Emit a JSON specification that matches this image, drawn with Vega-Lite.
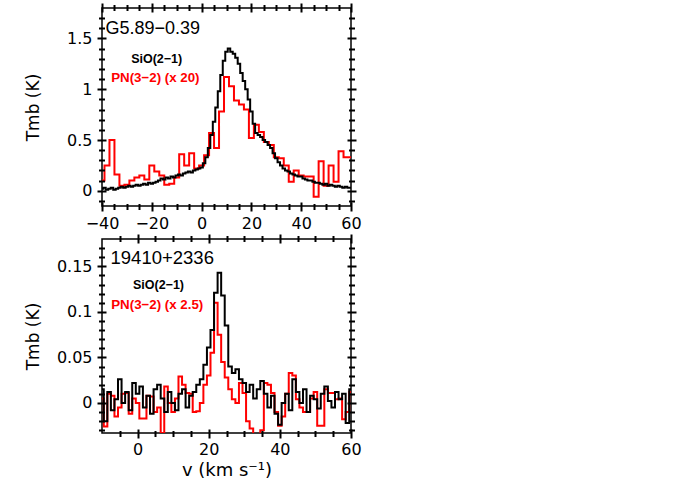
{
  "$schema": "https://vega.github.io/schema/vega-lite/v6.json",
  "padding": {"left": 23, "top": 1, "right": 5, "bottom": 5},
  "background": "white",
  "bounds": "flush",
  "spacing": 33,
  "config": {
    "view": {"stroke": "black", "strokeWidth": 1.5},
    "axis": {"grid": false, "domain": false, "ticks": true, "tickColor": "#000000", "tickOpacity": 1, "tickWidth": 2, "labelColor": "black", "labelFont": "DejaVu Sans", "labelFontSize": 16, "titleFont": "DejaVu Sans", "titleFontSize": 17, "titleFontWeight": "normal", "titleColor": "black", "labelOverlap": false, "labelFlush": false}
  },
  "datasets": {
    "topSiO": [
      {"v": -40, "T": 0.02}, {"v": -39, "T": 0.03}, {"v": -38, "T": 0.01}, {"v": -37, "T": 0.02}, {"v": -36, "T": 0.03}, {"v": -35, "T": 0.01}, {"v": -34, "T": 0.02}, {"v": -33, "T": 0.03}, {"v": -32, "T": 0.04}, {"v": -31, "T": 0.03},
      {"v": -30, "T": 0.04}, {"v": -29, "T": 0.05}, {"v": -28, "T": 0.04}, {"v": -27, "T": 0.05}, {"v": -26, "T": 0.06}, {"v": -25, "T": 0.05}, {"v": -24, "T": 0.06}, {"v": -23, "T": 0.07}, {"v": -22, "T": 0.06}, {"v": -21, "T": 0.08},
      {"v": -20, "T": 0.07}, {"v": -19, "T": 0.08}, {"v": -18, "T": 0.09}, {"v": -17, "T": 0.10}, {"v": -16, "T": 0.12}, {"v": -15, "T": 0.11}, {"v": -14, "T": 0.13}, {"v": -13, "T": 0.12}, {"v": -12, "T": 0.14}, {"v": -11, "T": 0.13},
      {"v": -10, "T": 0.15}, {"v": -9, "T": 0.16}, {"v": -8, "T": 0.15}, {"v": -7, "T": 0.17}, {"v": -6, "T": 0.18}, {"v": -5, "T": 0.19}, {"v": -4, "T": 0.18}, {"v": -3, "T": 0.20}, {"v": -2, "T": 0.21}, {"v": -1, "T": 0.22},
      {"v": 0, "T": 0.23}, {"v": 1, "T": 0.27}, {"v": 2, "T": 0.33}, {"v": 3, "T": 0.42}, {"v": 4, "T": 0.55}, {"v": 5, "T": 0.68}, {"v": 6, "T": 0.82}, {"v": 7, "T": 0.98}, {"v": 8, "T": 1.14}, {"v": 9, "T": 1.28},
      {"v": 10, "T": 1.37}, {"v": 11, "T": 1.40}, {"v": 12, "T": 1.37}, {"v": 13, "T": 1.35}, {"v": 14, "T": 1.31}, {"v": 15, "T": 1.25}, {"v": 16, "T": 1.16}, {"v": 17, "T": 1.08}, {"v": 18, "T": 1.00}, {"v": 19, "T": 0.90},
      {"v": 20, "T": 0.78}, {"v": 21, "T": 0.66}, {"v": 22, "T": 0.57}, {"v": 23, "T": 0.55}, {"v": 24, "T": 0.53}, {"v": 25, "T": 0.50}, {"v": 26, "T": 0.48}, {"v": 27, "T": 0.45}, {"v": 28, "T": 0.42}, {"v": 29, "T": 0.37},
      {"v": 30, "T": 0.32}, {"v": 31, "T": 0.28}, {"v": 32, "T": 0.25}, {"v": 33, "T": 0.22}, {"v": 34, "T": 0.20}, {"v": 35, "T": 0.19}, {"v": 36, "T": 0.17}, {"v": 37, "T": 0.16}, {"v": 38, "T": 0.15}, {"v": 39, "T": 0.14},
      {"v": 40, "T": 0.14}, {"v": 41, "T": 0.12}, {"v": 42, "T": 0.11}, {"v": 43, "T": 0.10}, {"v": 44, "T": 0.10}, {"v": 45, "T": 0.09}, {"v": 46, "T": 0.08}, {"v": 47, "T": 0.08}, {"v": 48, "T": 0.07}, {"v": 49, "T": 0.06},
      {"v": 50, "T": 0.07}, {"v": 51, "T": 0.05}, {"v": 52, "T": 0.06}, {"v": 53, "T": 0.05}, {"v": 54, "T": 0.04}, {"v": 55, "T": 0.05}, {"v": 56, "T": 0.04}, {"v": 57, "T": 0.03}, {"v": 58, "T": 0.04}, {"v": 59, "T": 0.03},
      {"v": 60, "T": 0.03}
    ],
    "topPN": [
      {"v": -40, "T": 0.10}, {"v": -38, "T": 0.25}, {"v": -36, "T": 0.50}, {"v": -34, "T": 0.16}, {"v": -32, "T": 0.05}, {"v": -30, "T": 0.06}, {"v": -28, "T": 0.10}, {"v": -26, "T": 0.13}, {"v": -24, "T": 0.15}, {"v": -22, "T": 0.11},
      {"v": -20, "T": 0.25}, {"v": -18, "T": 0.19}, {"v": -16, "T": 0.15}, {"v": -14, "T": 0.06}, {"v": -12, "T": 0.07}, {"v": -10, "T": 0.13}, {"v": -8, "T": 0.36}, {"v": -6, "T": 0.25}, {"v": -4, "T": 0.37}, {"v": -2, "T": 0.22},
      {"v": 0, "T": 0.25}, {"v": 2, "T": 0.35}, {"v": 4, "T": 0.57}, {"v": 6, "T": 0.42}, {"v": 8, "T": 0.78}, {"v": 10, "T": 1.12}, {"v": 12, "T": 1.03}, {"v": 14, "T": 0.89}, {"v": 16, "T": 0.85}, {"v": 18, "T": 0.80},
      {"v": 20, "T": 0.52}, {"v": 22, "T": 0.65}, {"v": 24, "T": 0.58}, {"v": 26, "T": 0.48}, {"v": 28, "T": 0.45}, {"v": 30, "T": 0.33}, {"v": 32, "T": 0.32}, {"v": 34, "T": 0.25}, {"v": 36, "T": 0.09}, {"v": 38, "T": 0.20},
      {"v": 40, "T": 0.15}, {"v": 42, "T": 0.14}, {"v": 44, "T": 0.14}, {"v": 46, "T": -0.06}, {"v": 48, "T": 0.29}, {"v": 50, "T": 0.05}, {"v": 52, "T": 0.25}, {"v": 54, "T": 0.09}, {"v": 56, "T": 0.39}, {"v": 58, "T": 0.33},
      {"v": 60, "T": 0.33}
    ],
    "botSiO": [
      {"v": -10, "T": 0.015}, {"v": -9, "T": -0.02}, {"v": -8, "T": 0.012}, {"v": -7, "T": -0.008}, {"v": -6, "T": 0.004}, {"v": -5, "T": 0.026}, {"v": -4, "T": 0.0}, {"v": -3, "T": 0.012}, {"v": -2, "T": -0.008}, {"v": -1, "T": 0.022},
      {"v": 0, "T": 0.01}, {"v": 1, "T": 0.018}, {"v": 2, "T": -0.005}, {"v": 3, "T": 0.008}, {"v": 4, "T": -0.012}, {"v": 5, "T": 0.015}, {"v": 6, "T": 0.02}, {"v": 7, "T": 0.005}, {"v": 8, "T": -0.01}, {"v": 9, "T": 0.012},
      {"v": 10, "T": 0.0}, {"v": 11, "T": -0.008}, {"v": 12, "T": 0.01}, {"v": 13, "T": 0.015}, {"v": 14, "T": -0.005}, {"v": 15, "T": 0.008}, {"v": 16, "T": 0.012}, {"v": 17, "T": 0.02}, {"v": 18, "T": 0.026}, {"v": 19, "T": 0.042},
      {"v": 20, "T": 0.061}, {"v": 21, "T": 0.08}, {"v": 22, "T": 0.121}, {"v": 23, "T": 0.143}, {"v": 24, "T": 0.118}, {"v": 25, "T": 0.085}, {"v": 26, "T": 0.04}, {"v": 27, "T": 0.033}, {"v": 28, "T": 0.037}, {"v": 29, "T": 0.026},
      {"v": 30, "T": 0.022}, {"v": 31, "T": 0.012}, {"v": 32, "T": 0.02}, {"v": 33, "T": 0.005}, {"v": 34, "T": 0.015}, {"v": 35, "T": 0.024}, {"v": 36, "T": 0.01}, {"v": 37, "T": -0.005}, {"v": 38, "T": 0.008}, {"v": 39, "T": -0.012},
      {"v": 40, "T": -0.024}, {"v": 41, "T": 0.0}, {"v": 42, "T": 0.01}, {"v": 43, "T": -0.008}, {"v": 44, "T": 0.026}, {"v": 45, "T": 0.012}, {"v": 46, "T": 0.0}, {"v": 47, "T": 0.015}, {"v": 48, "T": -0.01}, {"v": 49, "T": 0.008},
      {"v": 50, "T": 0.004}, {"v": 51, "T": -0.006}, {"v": 52, "T": 0.01}, {"v": 53, "T": 0.018}, {"v": 54, "T": 0.002}, {"v": 55, "T": -0.005}, {"v": 56, "T": 0.012}, {"v": 57, "T": 0.004}, {"v": 58, "T": 0.01}, {"v": 59, "T": -0.022},
      {"v": 60, "T": 0.015}
    ],
    "botPN": [
      {"v": -10, "T": 0.005}, {"v": -9, "T": -0.026}, {"v": -8, "T": 0.01}, {"v": -7, "T": 0.008}, {"v": -6, "T": -0.015}, {"v": -5, "T": -0.005}, {"v": -4, "T": 0.01}, {"v": -3, "T": 0.011}, {"v": -2, "T": -0.012}, {"v": -1, "T": 0.005},
      {"v": 0, "T": 0.0}, {"v": 1, "T": -0.017}, {"v": 2, "T": -0.017}, {"v": 3, "T": 0.008}, {"v": 4, "T": 0.007}, {"v": 5, "T": -0.01}, {"v": 6, "T": -0.005}, {"v": 7, "T": -0.033}, {"v": 8, "T": 0.018}, {"v": 9, "T": 0.0},
      {"v": 10, "T": -0.01}, {"v": 11, "T": 0.005}, {"v": 12, "T": 0.029}, {"v": 13, "T": 0.02}, {"v": 14, "T": 0.011}, {"v": 15, "T": 0.01}, {"v": 16, "T": -0.01}, {"v": 17, "T": -0.009}, {"v": 18, "T": 0.0}, {"v": 19, "T": 0.02},
      {"v": 20, "T": 0.03}, {"v": 21, "T": 0.055}, {"v": 22, "T": 0.11}, {"v": 23, "T": 0.075}, {"v": 24, "T": 0.045}, {"v": 25, "T": 0.028}, {"v": 26, "T": 0.015}, {"v": 27, "T": 0.004}, {"v": 28, "T": 0.0}, {"v": 29, "T": 0.022},
      {"v": 30, "T": 0.011}, {"v": 31, "T": -0.02}, {"v": 32, "T": -0.028}, {"v": 33, "T": -0.04}, {"v": 34, "T": -0.045}, {"v": 35, "T": -0.03}, {"v": 36, "T": 0.022}, {"v": 37, "T": 0.02}, {"v": 38, "T": 0.011}, {"v": 39, "T": -0.01},
      {"v": 40, "T": -0.025}, {"v": 41, "T": -0.015}, {"v": 42, "T": 0.01}, {"v": 43, "T": 0.033}, {"v": 44, "T": 0.03}, {"v": 45, "T": 0.004}, {"v": 46, "T": -0.005}, {"v": 47, "T": -0.01}, {"v": 48, "T": -0.01}, {"v": 49, "T": 0.005},
      {"v": 50, "T": 0.012}, {"v": 51, "T": -0.025}, {"v": 52, "T": -0.025}, {"v": 53, "T": 0.015}, {"v": 54, "T": 0.011}, {"v": 55, "T": 0.011}, {"v": 56, "T": 0.004}, {"v": 57, "T": 0.005}, {"v": 58, "T": -0.018}, {"v": 59, "T": -0.01},
      {"v": 60, "T": 0.012}
    ]
  },
  "vconcat": [
    {
      "width": 249,
      "height": 198,
      "layer": [
        {
          "data": {"name": "topPN"},
          "mark": {"type": "line", "interpolate": "step", "color": "#ff0000", "strokeWidth": 2, "clip": true},
          "encoding": {
            "x": {"field": "v", "type": "quantitative", "scale": {"domain": [-40, 60], "nice": false, "zero": false},
                  "axis": {"orient": "bottom", "zindex": 1, "values": [-35, -30, -25, -15, -10, -5, 5, 10, 15, 25, 30, 35, 45, 50, 55], "labels": false, "offset": -2.5, "tickSize": 6, "title": null}},
            "y": {"field": "T", "type": "quantitative", "scale": {"domain": [-0.15, 1.8], "nice": false, "zero": false},
                  "axis": {"orient": "left", "zindex": 1, "values": [-0.1, 0.1, 0.2, 0.3, 0.4, 0.6, 0.7, 0.8, 0.9, 1.1, 1.2, 1.3, 1.4, 1.6, 1.7], "labels": false, "offset": -2.5, "tickSize": 6, "title": null}}
          }
        },
        {
          "data": {"name": "topSiO"},
          "mark": {"type": "line", "interpolate": "step", "color": "black", "strokeWidth": 2, "clip": true},
          "encoding": {
            "x": {"field": "v", "type": "quantitative", "axis": {"orient": "bottom", "zindex": 1, "values": [-40, -20, 0, 20, 40, 60], "format": "d", "offset": -4, "tickSize": 9, "labelPadding": 4, "title": null}},
            "y": {"field": "T", "type": "quantitative", "axis": {"orient": "left", "zindex": 1, "values": [0, 0.5, 1, 1.5], "format": "~g", "offset": -4, "tickSize": 9, "labelPadding": 5, "title": "Tmb (K)", "titlePadding": 24}}
          }
        },
        {
          "data": {"name": "topSiO"},
          "mark": {"type": "line", "strokeOpacity": 0},
          "encoding": {
            "x": {"field": "v", "type": "quantitative", "axis": {"orient": "top", "zindex": 1, "values": [-40, -20, 0, 20, 40, 60], "offset": -4, "tickSize": 9, "labels": false, "title": null}},
            "y": {"field": "T", "type": "quantitative", "axis": {"orient": "right", "zindex": 1, "values": [0, 0.5, 1, 1.5], "offset": -4, "tickSize": 9, "labels": false, "title": null}}
          }
        },
        {
          "data": {"name": "topSiO"},
          "mark": {"type": "line", "strokeOpacity": 0},
          "encoding": {
            "x": {"field": "v", "type": "quantitative", "axis": {"orient": "top", "zindex": 1, "values": [-35, -30, -25, -15, -10, -5, 5, 10, 15, 25, 30, 35, 45, 50, 55], "offset": -2.5, "tickSize": 6, "labels": false, "title": null}},
            "y": {"field": "T", "type": "quantitative", "axis": {"orient": "right", "zindex": 1, "values": [-0.1, 0.1, 0.2, 0.3, 0.4, 0.6, 0.7, 0.8, 0.9, 1.1, 1.2, 1.3, 1.4, 1.6, 1.7], "offset": -2.5, "tickSize": 6, "labels": false, "title": null}}
          }
        },
        {
          "data": {"values": [{"t": "G5.89−0.39"}]},
          "mark": {"type": "text", "align": "left", "baseline": "middle", "font": "Liberation Sans", "fontSize": 18, "color": "black"},
          "encoding": {"x": {"datum": -38.6, "type": "quantitative", "axis": null}, "y": {"datum": 1.59, "type": "quantitative", "axis": null}, "text": {"field": "t"}}
        },
        {
          "data": {"values": [{"t": "SiO(2−1)"}]},
          "mark": {"type": "text", "align": "left", "baseline": "middle", "font": "Liberation Sans", "fontSize": 12.5, "fontWeight": "bold", "color": "black"},
          "encoding": {"x": {"datum": -28.3, "type": "quantitative", "axis": null}, "y": {"datum": 1.3, "type": "quantitative", "axis": null}, "text": {"field": "t"}}
        },
        {
          "data": {"values": [{"t": "PN(3−2) (x 20)"}]},
          "mark": {"type": "text", "align": "left", "baseline": "middle", "font": "Liberation Sans", "fontSize": 13.3, "fontWeight": "bold", "color": "#ff0000"},
          "encoding": {"x": {"datum": -36.3, "type": "quantitative", "axis": null}, "y": {"datum": 1.108, "type": "quantitative", "axis": null}, "text": {"field": "t"}}
        }
      ],
      "resolve": {"axis": {"x": "independent", "y": "independent"}}
    },
    {
      "width": 249,
      "height": 194,
      "layer": [
        {
          "data": {"name": "botPN"},
          "mark": {"type": "line", "interpolate": "step", "color": "#ff0000", "strokeWidth": 2, "clip": true},
          "encoding": {
            "x": {"field": "v", "type": "quantitative", "scale": {"domain": [-10, 60], "nice": false, "zero": false},
                  "axis": {"orient": "bottom", "zindex": 1, "values": [-5, 5, 10, 15, 25, 30, 35, 45, 50, 55], "labels": false, "offset": -2.5, "tickSize": 6, "title": null}},
            "y": {"field": "T", "type": "quantitative", "scale": {"domain": [-0.033, 0.18], "nice": false, "zero": false},
                  "axis": {"orient": "left", "zindex": 1, "values": [-0.03, -0.02, -0.01, 0.01, 0.02, 0.03, 0.04, 0.06, 0.07, 0.08, 0.09, 0.11, 0.12, 0.13, 0.14, 0.16, 0.17], "labels": false, "offset": -2.5, "tickSize": 6, "title": null}}
          }
        },
        {
          "data": {"name": "botSiO"},
          "mark": {"type": "line", "interpolate": "step", "color": "black", "strokeWidth": 2, "clip": true},
          "encoding": {
            "x": {"field": "v", "type": "quantitative", "axis": {"orient": "bottom", "zindex": 1, "values": [0, 20, 40, 60], "format": "d", "offset": -4, "tickSize": 9, "labelPadding": 3, "title": "v (km s⁻¹)", "titleFontSize": 18, "titlePadding": 4}},
            "y": {"field": "T", "type": "quantitative", "axis": {"orient": "left", "zindex": 1, "values": [0, 0.05, 0.1, 0.15], "format": "~g", "offset": -4, "tickSize": 9, "labelPadding": 5, "title": "Tmb (K)", "titlePadding": 14}}
          }
        },
        {
          "data": {"name": "botSiO"},
          "mark": {"type": "line", "strokeOpacity": 0},
          "encoding": {
            "x": {"field": "v", "type": "quantitative", "axis": {"orient": "top", "zindex": 1, "values": [0, 20, 40, 60], "offset": -4, "tickSize": 9, "labels": false, "title": null}},
            "y": {"field": "T", "type": "quantitative", "axis": {"orient": "right", "zindex": 1, "values": [0, 0.05, 0.1, 0.15], "offset": -4, "tickSize": 9, "labels": false, "title": null}}
          }
        },
        {
          "data": {"name": "botSiO"},
          "mark": {"type": "line", "strokeOpacity": 0},
          "encoding": {
            "x": {"field": "v", "type": "quantitative", "axis": {"orient": "top", "zindex": 1, "values": [-5, 5, 10, 15, 25, 30, 35, 45, 50, 55], "offset": -2.5, "tickSize": 6, "labels": false, "title": null}},
            "y": {"field": "T", "type": "quantitative", "axis": {"orient": "right", "zindex": 1, "values": [-0.03, -0.02, -0.01, 0.01, 0.02, 0.03, 0.04, 0.06, 0.07, 0.08, 0.09, 0.11, 0.12, 0.13, 0.14, 0.16, 0.17], "offset": -2.5, "tickSize": 6, "labels": false, "title": null}}
          }
        },
        {
          "data": {"values": [{"t": "19410+2336"}]},
          "mark": {"type": "text", "align": "left", "baseline": "middle", "font": "Liberation Sans", "fontSize": 18.5, "color": "black"},
          "encoding": {"x": {"datum": -7.6, "type": "quantitative", "axis": null}, "y": {"datum": 0.159, "type": "quantitative", "axis": null}, "text": {"field": "t"}}
        },
        {
          "data": {"values": [{"t": "SiO(2−1)"}]},
          "mark": {"type": "text", "align": "left", "baseline": "middle", "font": "Liberation Sans", "fontSize": 12.5, "fontWeight": "bold", "color": "black"},
          "encoding": {"x": {"datum": -1.3, "type": "quantitative", "axis": null}, "y": {"datum": 0.13, "type": "quantitative", "axis": null}, "text": {"field": "t"}}
        },
        {
          "data": {"values": [{"t": "PN(3−2) (x 2.5)"}]},
          "mark": {"type": "text", "align": "left", "baseline": "middle", "font": "Liberation Sans", "fontSize": 13.3, "fontWeight": "bold", "color": "#ff0000"},
          "encoding": {"x": {"datum": -7.4, "type": "quantitative", "axis": null}, "y": {"datum": 0.107, "type": "quantitative", "axis": null}, "text": {"field": "t"}}
        }
      ],
      "resolve": {"axis": {"x": "independent", "y": "independent"}}
    }
  ]
}
